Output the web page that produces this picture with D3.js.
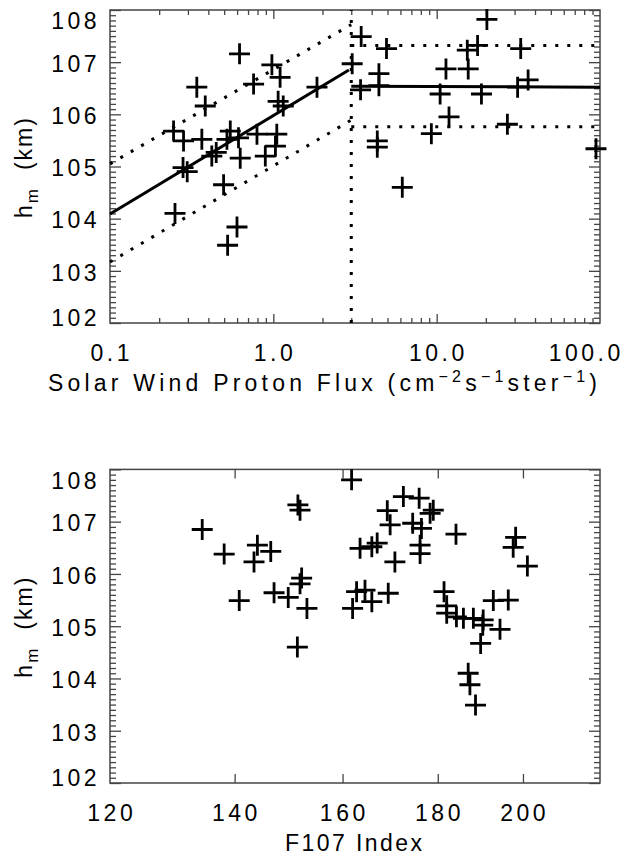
<!DOCTYPE html>
<html><head><meta charset="utf-8">
<script src="https://cdn.jsdelivr.net/npm/d3@7"></script>
<style>
body{margin:0;background:#fff}
svg{display:block}
text{font-family:"Liberation Sans",Arial,Helvetica,sans-serif;fill:#000}
</style>
</head><body>
<svg id="c" width="636" height="856"></svg>
<script>
// ---- data: top panel (solar wind proton flux vs hm) ----
const fluxValues = [0.621,0.98,1.10,0.34,0.757,0.383,1.07,1.15,1.85,0.245,0.282,0.365,0.545,0.612,0.52,0.794,1.05,1.03,0.893,0.627,0.42,0.447,0.28,0.297,0.496,0.25,0.599,0.525,
  20.3,3.45,4.93,15.4,17.8,32.7,3.04,11.4,15.6,4.43,4.43,3.42,10.5,18.8,31.3,36.3,11.9,27.1,9.28,4.33,4.33,94.5,6.16];
const hmTop = [107.16,106.95,106.71,106.52,106.58,106.16,106.25,106.16,106.52,105.68,105.49,105.52,105.68,105.55,105.52,105.62,105.62,105.39,105.2,105.16,105.2,105.27,104.98,104.9,104.65,104.1,103.84,103.49,
  107.82,107.49,107.26,107.23,107.32,107.26,106.97,106.87,106.87,106.78,106.55,106.47,106.39,106.39,106.52,106.66,105.95,105.81,105.63,105.49,105.37,105.34,104.6];

// fitted lines (flux, hm) endpoints
const fitLeft      = [[0.1,104.09],[2.9,106.85]];
const fitLeftUpper = [[0.1,105.05],[3.0,107.72]];
const fitLeftLower = [[0.1,103.17],[3.0,105.89]];
const fitRight      = [[3.0,106.54],[100,106.52]];
const fitRightUpper = [[3.0,107.32],[100,107.32]];
const fitRightLower = [[3.0,105.76],[100,105.76]];
const breakLine     = [[3.0,102],[3.0,108]];

// ---- data: bottom panel (F107 vs hm) ----
const f107Values = [134.5,138.2,144.0,146.4,143.4,140.8,147.0,149.6,151.4,151.8,152.1,151.8,153.1,151.3,161.8,172.5,175.9,169.1,179.0,178.3,169.7,174.5,176.4,163.5,165.9,167.0,176.1,176.1,170.7,184.1,198.2,197.6,201.1,162.8,164.5,165.9,169.3,162.0,181.4,182.0,182.0,184.2,185.8,188.1,190.4,190.3,192.8,196.4,194.4,189.8,186.9,187.3,188.6];
const hmBottom = [106.85,106.38,106.55,106.43,106.23,105.49,105.64,105.55,107.32,107.22,105.92,105.81,105.34,104.6,107.8,107.48,107.45,107.21,107.22,107.16,106.94,106.97,106.87,106.49,106.52,106.59,106.55,106.39,106.23,106.76,106.7,106.51,106.15,105.66,105.69,105.47,105.63,105.34,105.66,105.39,105.25,105.18,105.15,105.15,105.12,105.02,105.49,105.5,104.94,104.67,104.1,103.88,103.49];

// ---- tick labels ----
const hmTicks = [102,103,104,105,106,107,108];
const fluxTicks = [0.1,1,10,100];
const f107Ticks = [120,140,160,180,200];

// ---- layout ----
const L = 110, R = 600;
const panels = [
  {T:10, B:323},
  {T:469.4, B:783}
];
const svg = d3.select("#c");
const FONT = 23, LS = 3.5;
const frameColor = "#444";

const x1 = d3.scaleLog().domain([0.1,100]).range([L,R]);
const y1 = d3.scaleLinear().domain([102,108]).range([panels[0].B,panels[0].T]);
const x2 = d3.scaleLog().domain([120,220]).range([L,R]);
const y2 = d3.scaleLinear().domain([102,108]).range([panels[1].B,panels[1].T]);

const hmMinor = d3.range(1020,1081).map(d=>d/10).filter(d=>Math.abs(d-Math.round(d))>1e-6);
const fluxMinor = [];
[0.1,1,10].forEach(dec=>{for(let k=2;k<=9;k++) fluxMinor.push(dec*k);});

function axisG(axis, tx, ty){
  const g = svg.append("g").attr("transform",`translate(${tx},${ty})`).call(axis);
  g.select(".domain").remove();
  g.selectAll("line").attr("stroke",frameColor).attr("stroke-width",1.3);
  return g;
}

function drawPanel(p, x, y, xMajor, xMinor, xLabels, xFmt){
  axisG(d3.axisLeft(y).tickValues(hmTicks).tickSize(-11).tickFormat(""), L, 0);
  axisG(d3.axisLeft(y).tickValues(hmMinor).tickSize(-6).tickFormat(""), L, 0);
  axisG(d3.axisRight(y).tickValues(hmTicks).tickSize(-11).tickFormat(""), R, 0);
  axisG(d3.axisRight(y).tickValues(hmMinor).tickSize(-6).tickFormat(""), R, 0);
  axisG(d3.axisBottom(x).tickValues(xMajor).tickSize(-9).tickFormat(""), 0, p.B);
  axisG(d3.axisTop(x).tickValues(xMajor).tickSize(-9).tickFormat(""), 0, p.T);
  if (xMinor.length){
    axisG(d3.axisBottom(x).tickValues(xMinor).tickSize(-5).tickFormat(""), 0, p.B);
    axisG(d3.axisTop(x).tickValues(xMinor).tickSize(-5).tickFormat(""), 0, p.T);
  }
  svg.append("rect").attr("x",L).attr("y",p.T).attr("width",R-L).attr("height",p.B-p.T)
    .attr("fill","none").attr("stroke",frameColor).attr("stroke-width",1.5);

  svg.append("g").selectAll("text").data(hmTicks).join("text")
    .attr("x", L-10)
    .attr("y", d => Math.max(p.T+11, Math.min(p.B-5.5, y(d)+1.5)))
    .attr("dy","0.36em")
    .attr("text-anchor","end")
    .attr("font-size",FONT)
    .attr("letter-spacing",LS)
    .text(d=>d3.format("d")(d));

  const xl = svg.append("g").selectAll("text").data(xLabels).join("text")
    .attr("y", p.B+37.5)
    .attr("text-anchor","middle")
    .attr("font-size",FONT)
    .attr("letter-spacing",LS)
    .text(xFmt);
  xl.each(function(d){
    const w = this.getComputedTextLength();
    const cx = Math.min(x(d), 622 - w/2);
    d3.select(this).attr("x", cx + LS/2);
  });

  const yt = svg.append("text")
    .attr("transform",`translate(32,${(p.T+p.B)/2+1.5}) rotate(-90)`)
    .attr("text-anchor","middle")
    .attr("font-size",FONT)
    .attr("textLength",100).attr("lengthAdjust","spacing")
    .style("white-space","pre");
  yt.append("tspan").text("h");
  yt.append("tspan").attr("font-size",17).attr("dy",6).text("m");
  yt.append("tspan").attr("dy",-6).text("  (km)");
}

drawPanel(panels[0], x1, y1, [1,10], fluxMinor, fluxTicks, d=>d3.format(".1f")(d));
drawPanel(panels[1], x2, y2, [140,160,180,200], [], f107Ticks, d=>d3.format("d")(d));

const t1 = svg.append("text").attr("x",48).attr("y",panels[0].B+68)
  .attr("font-size",FONT).attr("textLength",549).attr("lengthAdjust","spacing");
t1.append("tspan").text("Solar Wind Proton Flux (cm");
t1.append("tspan").attr("font-size",16).attr("dy",-9).text("\u22122");
t1.append("tspan").attr("dy",9).text("s");
t1.append("tspan").attr("font-size",16).attr("dy",-9).text("\u22121");
t1.append("tspan").attr("dy",9).text("ster");
t1.append("tspan").attr("font-size",16).attr("dy",-9).text("\u22121");
t1.append("tspan").attr("dy",9).text(")");

svg.append("text").attr("x",285).attr("y",panels[1].B+68)
  .attr("font-size",FONT).attr("textLength",137).attr("lengthAdjust","spacing")
  .text("F107 Index");

const line1 = d3.line().x(d=>x1(d[0])).y(d=>y1(d[1]));
function drawLine(pts, dotted){
  svg.append("path").attr("d",line1(pts)).attr("fill","none").attr("stroke","#000")
    .attr("stroke-width",3).attr("stroke-dasharray",dotted?"3 9":null);
}
drawLine(fitLeft,false);
drawLine(fitRight,false);
drawLine(fitLeftUpper,true);
drawLine(fitLeftLower,true);
drawLine(fitRightUpper,true);
drawLine(fitRightLower,true);
drawLine(breakLine,true);

const cross = "M-10.5,0H10.5M0,-10.5V10.5";
svg.append("g").selectAll("path").data(d3.zip(fluxValues,hmTop)).join("path")
  .attr("d",cross).attr("transform",d=>`translate(${x1(d[0])},${y1(d[1])})`)
  .attr("stroke","#000").attr("stroke-width",2.8).attr("fill","none");
svg.append("g").selectAll("path").data(d3.zip(f107Values,hmBottom)).join("path")
  .attr("d",cross).attr("transform",d=>`translate(${x2(d[0])},${y2(d[1])})`)
  .attr("stroke","#000").attr("stroke-width",2.8).attr("fill","none");
</script>
</body></html>
